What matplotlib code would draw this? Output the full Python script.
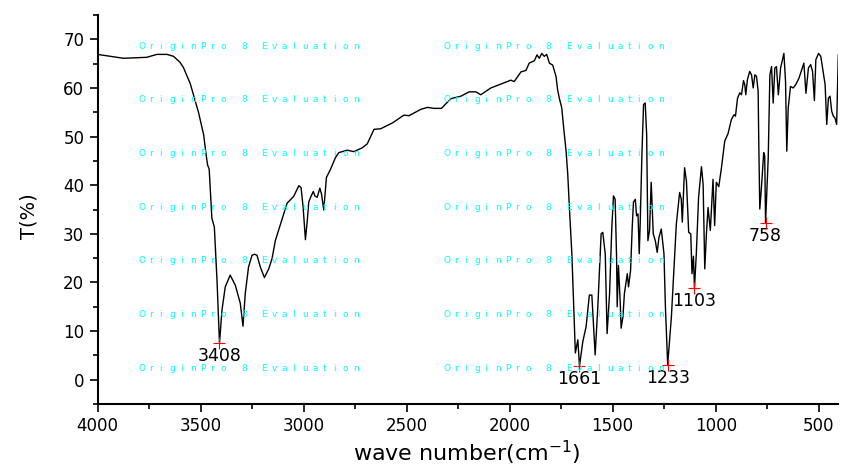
import matplotlib
matplotlib.use("Agg")
import matplotlib.pyplot as plt
from matplotlib.ticker import MultipleLocator

# FT-IR spectrum
wavenumber = [4000, 3874, 3761, 3712, 3663, 3631, 3600, 3583, 3550, 3510, 3485, 3472, 3466,
              3458, 3445, 3433, 3420, 3408, 3396, 3380, 3356, 3331, 3307, 3294, 3283, 3267,
              3250, 3238, 3226, 3210, 3190, 3169, 3153, 3137, 3112, 3080, 3048, 3023, 3012,
              3002, 2991, 2982, 2975, 2966, 2953, 2945, 2934, 2921, 2913, 2902, 2889, 2869,
              2845, 2829, 2788, 2756, 2715, 2691, 2658, 2626, 2569, 2513, 2488, 2431, 2399,
              2367, 2331, 2285, 2237, 2196, 2164, 2140, 2091, 2042, 1994, 1978, 1945, 1921,
              1905, 1880, 1867, 1856, 1844, 1832, 1820, 1807, 1791, 1775, 1767, 1759, 1747,
              1737, 1726, 1718, 1710, 1698, 1689, 1681, 1669, 1661, 1645, 1629, 1613, 1601,
              1589, 1585, 1572, 1556, 1548, 1536, 1527, 1515, 1504, 1496, 1488, 1481, 1478,
              1472, 1463, 1459, 1450, 1443, 1429, 1423, 1413, 1405, 1399, 1390, 1384, 1377,
              1371, 1366, 1358, 1350, 1342, 1335, 1329, 1321, 1313, 1303, 1293, 1284, 1275,
              1264, 1251, 1244, 1233, 1215, 1191, 1175, 1167, 1162, 1151, 1142, 1131, 1121,
              1115, 1108, 1103, 1094, 1083, 1069, 1061, 1053, 1045, 1037, 1026, 1013, 1005,
              997, 985, 972, 956, 940, 924, 911, 904, 894, 883, 875, 865, 859, 854, 846, 835,
              826, 818, 810, 802, 794, 791, 786, 778, 767, 762, 758, 745, 737, 729, 721, 713,
              705, 696, 685, 669, 661, 655, 648, 637, 624, 611, 596, 583, 572, 562, 550, 539,
              530, 521, 514, 501, 490, 477, 469, 461, 453, 445, 437, 429, 421, 413, 405]
transmittance = [66.9, 66.1, 66.3, 66.9, 66.9, 66.5, 65.3, 64.2, 60.9, 55.0, 50.4, 46.0, 44.2,
                 43.3, 33.2, 31.4, 20.4, 7.5, 14.3, 19.1, 21.5, 19.4, 15.7, 11.0, 17.7, 23.2,
                 25.6, 25.8, 25.6, 23.2, 21.0, 22.8, 24.9, 28.6, 32.0, 36.3, 37.7, 39.9, 39.5,
                 35.4, 28.8, 32.7, 36.5, 37.5, 38.7, 37.8, 37.5, 39.4, 38.2, 34.9, 41.6, 43.3,
                 45.7, 46.7, 47.2, 46.9, 47.7, 48.5, 51.5, 51.6, 52.8, 54.4, 54.3, 55.6, 56.0,
                 55.8, 55.8, 57.8, 58.3, 59.2, 59.2, 58.6, 60.0, 60.8, 61.6, 61.3, 63.3, 63.6,
                 65.1, 65.6, 66.8, 66.1, 67.1, 66.5, 66.9, 65.1, 64.7, 62.4, 59.6, 57.9, 55.9,
                 51.5, 47.0, 42.3, 35.4, 25.9, 15.0, 5.5, 8.2, 2.8, 7.8, 10.9, 17.4, 17.4,
                 8.2, 5.1, 15.0, 30.0, 30.3, 25.9, 9.5, 17.7, 31.4, 37.8, 37.1, 25.2, 15.0,
                 23.5, 15.7, 10.6, 13.0, 17.7, 21.8, 19.1, 22.5, 31.4, 36.5, 37.1, 33.7, 34.1,
                 25.9, 32.7, 46.4, 56.6, 56.9, 50.4, 28.6, 30.7, 40.6, 30.0, 28.6, 26.2, 29.3,
                 31.0, 25.9, 15.0, 3.1, 12.9, 32.0, 38.5, 37.1, 32.4, 43.6, 40.9, 30.3, 30.0,
                 21.8, 25.4, 18.8, 25.9, 37.5, 43.8, 40.2, 22.8, 30.0, 35.4, 30.7, 41.2, 31.7,
                 40.6, 39.7, 43.6, 49.1, 50.6, 53.5, 54.5, 54.2, 57.9, 59.0, 58.6, 61.5, 60.7,
                 58.6, 61.7, 63.4, 62.7, 60.0, 62.7, 62.4, 59.3, 49.1, 35.1, 39.5, 46.7, 46.0,
                 32.2, 45.7, 62.7, 64.4, 56.9, 64.1, 64.4, 58.6, 64.1, 67.1, 61.3, 47.0, 55.9,
                 60.3, 60.0, 60.7, 62.0, 63.7, 65.1, 58.9, 64.1, 64.8, 63.4, 57.4, 65.8, 67.1,
                 66.5, 63.0, 60.7, 52.5, 57.9, 58.3, 55.2, 54.2, 53.8, 52.5, 66.8]

# labelled peaks
peak_wn = [3408, 1661, 1233, 1103, 758]
peak_t = [7.5, 2.8, 3.1, 18.8, 32.2]

plt.rcParams['font.family'] = ['DejaVu Sans']

W, H = 842, 466
fig = plt.figure(figsize=(W / 100, H / 100), dpi=100)
ax = fig.add_axes([0.1158, 0.133, 0.8798, 0.8348])

# evaluation watermark, one letter per fixed-pitch slot
wm = "OriginPro 8 Evaluation"
pitch = 10.2 / W
for i in range(7):
    for fx in (0.165, 0.527):
        for k, ch in enumerate(wm):
            if ch == " ":
                continue
            fig.text(fx + k * pitch, 0.901 - i * 0.1152, ch, color='#00ffff',
                     fontsize=6.5, ha='left', va='center', zorder=0)

ax.plot(wavenumber, transmittance, color='black', linewidth=1.0, zorder=3)

for w, t in zip(peak_wn, peak_t):
    ax.plot(w, t, marker='+', color='red', markersize=9, markeredgewidth=0.8, zorder=4)
    ax.annotate(str(w), (w, t), xytext=(0, -3), textcoords='offset points',
                ha='center', va='top', fontsize=12.5)

ax.set_xlim(4000, 405)
ax.set_ylim(-5, 75)
ax.xaxis.set_major_locator(MultipleLocator(500))
ax.xaxis.set_minor_locator(MultipleLocator(250))
ax.yaxis.set_major_locator(MultipleLocator(10))
ax.yaxis.set_minor_locator(MultipleLocator(5))

ax.spines['top'].set_visible(False)
ax.spines['right'].set_visible(False)
ax.spines['left'].set_linewidth(1.5)
ax.spines['bottom'].set_linewidth(1.5)
ax.patch.set_alpha(0)
ax.tick_params(which='major', direction='out', length=6, width=1.2, labelsize=12)
ax.tick_params(which='minor', direction='out', length=3.5, width=1.2)

ax.set_xlabel("wave number(cm$^{-1}$)", fontsize=16)
ax.set_ylabel("T(%)", fontsize=14)
ax.xaxis.set_label_coords(0.499, -0.09)
ax.yaxis.set_label_coords(-0.08, 0.483)

fig.savefig("out.png", dpi=100)
